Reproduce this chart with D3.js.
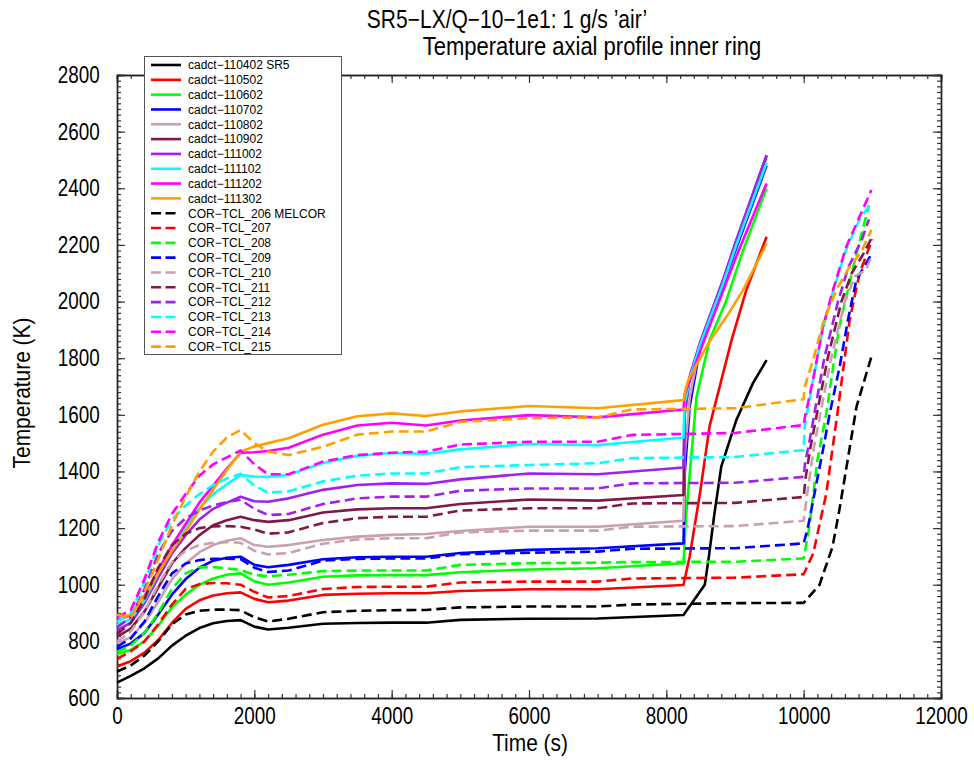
<!DOCTYPE html>
<html>
<head>
<meta charset="utf-8">
<script src="https://cdn.jsdelivr.net/npm/d3@7"></script>
<style>
  body { margin: 0; background: #fff; }
  svg { font-family: "Liberation Sans", Arial, sans-serif; }
</style>
</head>
<body>
<svg id="chart" width="974" height="761"></svg>
<script>
// ---- data ----
const sr5Time = [0, 200, 400, 600, 800, 1000, 1200, 1400, 1600, 1800, 2000, 2200, 2500, 3000, 3500, 4000, 4500, 5000, 6000, 7000, 8250];
const melcorTime = [0, 200, 400, 600, 800, 1000, 1200, 1400, 1600, 1800, 2000, 2200, 2500, 3000, 3500, 4000, 4500, 5000, 6000, 7000, 7500, 9000, 10000];

const sr5Names = ["cadct\u2212110402 SR5", "cadct\u2212110502", "cadct\u2212110602", "cadct\u2212110702", "cadct\u2212110802",
                  "cadct\u2212110902", "cadct\u2212111002", "cadct\u2212111102", "cadct\u2212111202", "cadct\u2212111302"];
const melcorNames = ["COR\u2212TCL_206 MELCOR", "COR\u2212TCL_207", "COR\u2212TCL_208", "COR\u2212TCL_209", "COR\u2212TCL_210",
                     "COR\u2212TCL_211", "COR\u2212TCL_212", "COR\u2212TCL_213", "COR\u2212TCL_214", "COR\u2212TCL_215"];
const colors = ["#000000", "#ff0000", "#00ff00", "#0000ff", "#c8a0b0", "#801848", "#a020f0", "#00ffff", "#ff00ff", "#ffa000"];

// SR5 (solid) temperatures on sr5Time
const sr5Values = [
  [654, 678, 705, 740, 785, 820, 847, 864, 872, 875, 852, 842, 848, 862, 865, 866, 866, 876, 880, 881, 893],
  [711, 730, 760, 805, 865, 915, 945, 962, 970, 973, 950, 938, 944, 964, 968, 970, 970, 978, 984, 984, 999],
  [754, 770, 800, 855, 920, 965, 1000, 1022, 1035, 1040, 1012, 1000, 1008, 1028, 1033, 1034, 1034, 1044, 1054, 1058, 1076],
  [772, 792, 830, 895, 965, 1020, 1060, 1085, 1095, 1099, 1070, 1062, 1070, 1090, 1097, 1099, 1099, 1112, 1123, 1129, 1146],
  [793, 815, 865, 940, 1020, 1075, 1115, 1140, 1155, 1164, 1140, 1134, 1140, 1158, 1170, 1176, 1179, 1190, 1205, 1205, 1226],
  [816, 845, 905, 990, 1075, 1130, 1175, 1210, 1228, 1240, 1228, 1222, 1228, 1255, 1266, 1270, 1270, 1285, 1301, 1297, 1317],
  [840, 865, 935, 1025, 1110, 1175, 1230, 1268, 1290, 1311, 1295, 1293, 1305, 1335, 1352, 1358, 1356, 1372, 1393, 1390, 1414],
  [858, 878, 945, 1040, 1130, 1205, 1270, 1320, 1355, 1387, 1382, 1381, 1388, 1430, 1455, 1465, 1462, 1478, 1497, 1493, 1520],
  [875, 892, 960, 1050, 1140, 1215, 1290, 1350, 1410, 1466, 1468, 1472, 1484, 1530, 1562, 1572, 1562, 1580, 1599, 1591, 1619],
  [890, 892, 955, 1040, 1120, 1190, 1265, 1335, 1405, 1470, 1488, 1500, 1517, 1565, 1595, 1605, 1596, 1612, 1631, 1623, 1652]
];
// SR5 heat-up after 8250 s: [time, temperature]
const sr5Tail = [
  [[8560, 1000], [8620, 1100], [8700, 1250], [8800, 1417], [9020, 1582], [9260, 1711], [9460, 1793]],
  [[8340, 1100], [8490, 1323], [8630, 1560], [8830, 1750], [8950, 1864], [9165, 2041], [9460, 2229]],
  [[8290, 1250], [8440, 1664], [8630, 1864], [8875, 2005], [9120, 2182], [9460, 2400]],
  [[8270, 1400], [8340, 1629], [8490, 1835], [8830, 2060], [9020, 2190], [9460, 2480]],
  [[8265, 1450], [8340, 1660], [8490, 1845], [8830, 2070], [9020, 2205], [9460, 2505]],
  [[8265, 1600], [8340, 1730], [8490, 1850], [8830, 2075], [9020, 2215], [9460, 2515]],
  [[8265, 1600], [8340, 1735], [8490, 1855], [8830, 2080], [9020, 2218], [9460, 2517]],
  [[8265, 1640], [8340, 1725], [8490, 1845], [8830, 2065], [9020, 2200], [9460, 2490]],
  [[8265, 1670], [8340, 1720], [8530, 1850], [8830, 2040], [9020, 2160], [9460, 2417]],
  [[8280, 1690], [8320, 1723], [8630, 1860], [8875, 1946], [9120, 2041], [9460, 2205]]
];

// MELCOR (dashed) temperatures on melcorTime
const melcorValues = [
  [693, 715, 750, 800, 860, 895, 908, 912, 912, 910, 885, 870, 880, 903, 908, 910, 911, 920, 923, 923, 930, 935, 936],
  [738, 765, 800, 860, 930, 985, 1002, 1006, 1005, 1000, 975, 955, 960, 985, 992, 993, 993, 1008, 1011, 1011, 1022, 1025, 1037],
  [763, 785, 830, 900, 985, 1040, 1062, 1062, 1058, 1052, 1035, 1030, 1035, 1048, 1050, 1050, 1050, 1070, 1076, 1078, 1080, 1081, 1093],
  [781, 810, 870, 960, 1040, 1075, 1087, 1092, 1092, 1090, 1060, 1045, 1050, 1085, 1091, 1093, 1093, 1108, 1113, 1117, 1127, 1129, 1146],
  [799, 835, 905, 1000, 1080, 1120, 1140, 1148, 1150, 1148, 1120, 1107, 1112, 1145, 1160, 1164, 1164, 1185, 1191, 1191, 1205, 1207, 1226],
  [825, 865, 950, 1060, 1140, 1180, 1200, 1206, 1207, 1205, 1195, 1180, 1185, 1218, 1235, 1240, 1240, 1262, 1270, 1270, 1287, 1289, 1310],
  [850, 885, 985, 1110, 1190, 1235, 1262, 1280, 1292, 1300, 1268, 1246, 1250, 1285, 1305, 1311, 1311, 1332, 1340, 1340, 1358, 1360, 1381],
  [869, 900, 1010, 1140, 1230, 1280, 1320, 1352, 1375, 1392, 1350, 1325, 1330, 1365, 1385, 1393, 1393, 1415, 1423, 1429, 1447, 1451, 1476],
  [885, 910, 1020, 1150, 1250, 1320, 1385, 1425, 1450, 1474, 1425, 1390, 1390, 1435, 1458, 1466, 1470, 1495, 1505, 1505, 1529, 1536, 1564],
  [895, 882, 975, 1090, 1210, 1310, 1400, 1470, 1520, 1546, 1500, 1470, 1458, 1487, 1530, 1541, 1541, 1575, 1588, 1591, 1619, 1623, 1655]
];
// MELCOR heat-up after 10000 s: [time, temperature]
const melcorTail = [
  [[10230, 999], [10420, 1134], [10520, 1264], [10770, 1629], [10990, 1808]],
  [[10140, 1111], [10330, 1323], [10500, 1620], [10670, 1935], [10815, 2100], [11000, 2220]],
  [[10080, 1200], [10200, 1440], [10330, 1605], [10430, 1770], [10520, 1911], [10620, 2017], [10770, 2170], [10950, 2340]],
  [[10060, 1200], [10290, 1487], [10380, 1605], [10524, 1770], [10645, 1935], [10767, 2076], [10940, 2147], [10990, 2170]],
  [[10040, 1300], [10150, 1487], [10400, 1800], [10600, 2000], [10750, 2090], [10900, 2110], [11000, 2164]],
  [[10030, 1380], [10100, 1487], [10350, 1800], [10550, 2000], [10700, 2100], [10850, 2160], [11000, 2229]],
  [[10020, 1430], [10070, 1487], [10300, 1800], [10500, 2000], [10650, 2120], [10850, 2220], [10950, 2290]],
  [[10015, 1560], [10136, 1720], [10281, 1905], [10427, 2035], [10621, 2185], [10815, 2290], [10960, 2341]],
  [[10015, 1588], [10136, 1723], [10281, 1911], [10427, 2041], [10621, 2194], [10815, 2300], [10985, 2394]],
  [[10015, 1699], [10136, 1793], [10281, 1923], [10476, 2041], [10670, 2123], [10840, 2176], [10985, 2253]]
];

const xTicks = d3.range(0, 12001, 2000);
const yTicks = d3.range(600, 2801, 200);

// ---- layout ----
const svg = d3.select("#chart");
const x = d3.scaleLinear().domain([0, 12000]).range([117, 941]);
const y = d3.scaleLinear().domain([600, 2800]).range([698, 75]);

// build series
const series = [];
sr5Values.forEach((vals, i) => {
  const pts = sr5Time.map((t, j) => [t, vals[j]]).concat(sr5Tail[i]);
  series.push({ name: sr5Names[i], color: colors[i], dashed: false, pts });
});
melcorValues.forEach((vals, i) => {
  const pts = melcorTime.map((t, j) => [t, vals[j]]).concat(melcorTail[i]);
  series.push({ name: melcorNames[i], color: colors[i], dashed: true, pts });
});

// ---- axes (ticks on all four sides, pointing inward) ----
function styleAxis(g) {
  g.attr("font-family", null).attr("font-size", null);
  g.selectAll("path.domain").attr("stroke", "#222").attr("stroke-width", 1.4);
  g.selectAll(".tick line").attr("stroke", "#333").attr("stroke-width", 1.2);
}

const minorX = d3.range(0, 12001, 200);
const minorY = d3.range(600, 2801, 20);
const fmt = d3.format("d");

svg.append("g").attr("transform", "translate(0,698)")
  .call(d3.axisBottom(x).tickValues(minorX).tickSize(-4).tickFormat("")).call(styleAxis);
svg.append("g").attr("transform", "translate(0,75)")
  .call(d3.axisTop(x).tickValues(minorX).tickSize(-4).tickFormat("")).call(styleAxis);
svg.append("g").attr("transform", "translate(117,0)")
  .call(d3.axisLeft(y).tickValues(minorY).tickSize(-4).tickFormat("")).call(styleAxis);
svg.append("g").attr("transform", "translate(941,0)")
  .call(d3.axisRight(y).tickValues(minorY).tickSize(-4).tickFormat("")).call(styleAxis);

const xAxis = svg.append("g").attr("transform", "translate(0,698)")
  .call(d3.axisBottom(x).tickValues(xTicks).tickSize(-8).tickPadding(10).tickFormat(fmt)).call(styleAxis);
svg.append("g").attr("transform", "translate(0,75)")
  .call(d3.axisTop(x).tickValues(xTicks).tickSize(-8).tickFormat("")).call(styleAxis);
const yAxis = svg.append("g").attr("transform", "translate(117,0)")
  .call(d3.axisLeft(y).tickValues(yTicks).tickSize(-8).tickPadding(21).tickFormat(fmt)).call(styleAxis);
svg.append("g").attr("transform", "translate(941,0)")
  .call(d3.axisRight(y).tickValues(yTicks).tickSize(-8).tickFormat("")).call(styleAxis);

// narrow-looking tick labels
[xAxis, yAxis].forEach(a => a.selectAll(".tick text")
  .attr("font-size", 23).attr("fill", "#000").attr("transform", "scale(0.82,1)"));

// ---- lines ----
const line = d3.line().x(d => x(d[0])).y(d => y(d[1]));
const solids = series.filter(s => !s.dashed);
const dashes = series.filter(s => s.dashed);

svg.append("g").selectAll("path").data(solids).enter().append("path")
  .attr("d", d => line(d.pts))
  .attr("fill", "none")
  .attr("stroke", d => d.color)
  .attr("stroke-width", 2.6)
  .attr("stroke-linejoin", "round");

svg.append("g").selectAll("path").data(dashes).enter().append("path")
  .attr("d", d => line(d.pts))
  .attr("fill", "none")
  .attr("stroke", d => d.color)
  .attr("stroke-width", 2.6)
  .attr("stroke-dasharray", "10,5")
  .attr("stroke-linejoin", "round");

// ---- legend ----
const legend = svg.append("g");
legend.append("rect")
  .attr("x", 144.5).attr("y", 56.5).attr("width", 197).attr("height", 298)
  .attr("fill", "#fff").attr("stroke", "#555").attr("stroke-width", 1);

const rowY = i => 65 + i * 14.82;
const items = legend.selectAll("g.item").data(series).enter().append("g").attr("class", "item");
items.append("line")
  .attr("x1", 151).attr("x2", d => d.dashed ? 175.5 : 181)
  .attr("y1", (d, i) => rowY(i)).attr("y2", (d, i) => rowY(i))
  .attr("stroke", d => d.color).attr("stroke-width", 2.6)
  .attr("stroke-dasharray", d => d.dashed ? "10,4.5" : null);
items.append("text")
  .attr("x", 188).attr("y", (d, i) => rowY(i) + 4.3)
  .attr("font-size", 12).attr("fill", "#000")
  .text(d => d.name);

// ---- titles ----
function label(txt, px, py, size, sx, rot) {
  svg.append("text")
    .attr("transform", `translate(${px},${py}) rotate(${rot || 0}) scale(${sx},1)`)
    .attr("text-anchor", "middle").attr("font-size", size).attr("fill", "#000")
    .text(txt);
}
label("SR5\u2212LX/Q\u221210\u22121e1: 1 g/s \u2019air\u2019", 507, 28, 25, 0.84);
label("Temperature axial profile inner ring", 592, 55, 25, 0.88);
label("Time (s)", 530, 751, 24, 0.87);
label("Temperature (K)", 30, 393, 24, 0.87, -90);
</script>
</body>
</html>
